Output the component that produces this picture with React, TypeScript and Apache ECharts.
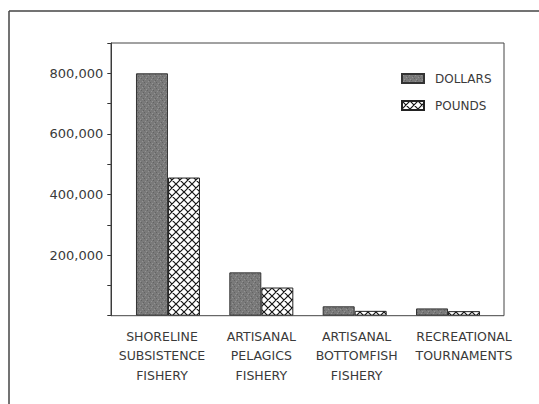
import React, { useEffect, useRef } from "react";
import * as echarts from "echarts";

const categories = [
  "SHORELINE\nSUBSISTENCE\nFISHERY",
  "ARTISANAL\nPELAGICS\nFISHERY",
  "ARTISANAL\nBOTTOMFISH\nFISHERY",
  "RECREATIONAL\nTOURNAMENTS",
];
const dollars = [800000, 143000, 31000, 24000];
const pounds = [456000, 93000, 16000, 15000];
const seriesNames = ["DOLLARS", "POUNDS"];
const yLabelValues = [200000, 400000, 600000, 800000];

const FONT = "DejaVu Sans";
const TEXT = "#3a3a3a";

function hatchTile(): string {
  const c = document.createElement("canvas");
  c.width = 8;
  c.height = 8;
  const g = c.getContext("2d")!;
  g.fillStyle = "#ffffff";
  g.fillRect(0, 0, 8, 8);
  g.strokeStyle = "#151515";
  g.lineWidth = 1.2;
  g.beginPath();
  for (const o of [-8, 0, 8]) {
    g.moveTo(o - 1, -1);
    g.lineTo(o + 9, 9);
    g.moveTo(o + 9, -1);
    g.lineTo(o - 1, 9);
  }
  g.stroke();
  return c.toDataURL();
}

function grayTile(): string {
  const c = document.createElement("canvas");
  c.width = 6;
  c.height = 6;
  const g = c.getContext("2d")!;
  g.fillStyle = "#7a7a7a";
  g.fillRect(0, 0, 6, 6);
  g.fillStyle = "#939393";
  g.fillRect(1, 1, 1, 1);
  g.fillRect(4, 3, 1, 1);
  g.fillRect(2, 5, 1, 1);
  g.fillStyle = "#636363";
  g.fillRect(3, 0, 1, 1);
  g.fillRect(0, 4, 1, 1);
  g.fillRect(5, 2, 1, 1);
  return c.toDataURL();
}

const labelRich = {
  c0: { padding: [0, 12, 0, 0] },
  c1: { padding: [0, 0, 0, 0] },
  c2: { padding: [0, 0, 0, 4] },
  c3: { padding: [0, 0, 0, 32] },
};

export default function App() {
  const ref = useRef<HTMLDivElement>(null);
  useEffect(() => {
    if (!ref.current) return;
    const chart = echarts.init(ref.current, null, { renderer: "svg" });
    const hatch = { image: hatchTile(), repeat: "repeat", imageWidth: 8, imageHeight: 8 };
    const gray = { image: grayTile(), repeat: "repeat", imageWidth: 6, imageHeight: 6 };
    const gridTop = 43;
    const gridBottomY = 315.7;
    const richStyle: Record<string, any> = {};
    Object.keys(labelRich).forEach((k) => {
      richStyle[k] = {
        ...(labelRich as any)[k],
        fontFamily: FONT,
        fontSize: 12.5,
        lineHeight: 19.5,
        color: TEXT,
      };
    });
    chart.setOption({
      animation: false,
      backgroundColor: "#ffffff",
      textStyle: { fontFamily: FONT, color: TEXT },
      grid: {
        left: 121.3,
        right: 539 - 494.7,
        top: gridTop,
        bottom: 404 - gridBottomY,
        containLabel: false,
      },
      legend: {
        orient: "vertical",
        left: 401,
        top: 71.5,
        padding: 0,
        itemWidth: 22,
        itemHeight: 9,
        itemGap: 13,
        icon: "rect",
        data: seriesNames,
        textStyle: {
          fontFamily: FONT,
          fontSize: 12,
          color: TEXT,
          lineHeight: 14,
          padding: [0, 0, 0, 6],
        },
      },
      xAxis: {
        type: "category",
        data: categories,
        axisLine: { show: false },
        axisTick: { show: false },
        axisLabel: {
          interval: 0,
          margin: 11,
          fontFamily: FONT,
          fontSize: 12.5,
          lineHeight: 19.5,
          color: TEXT,
          formatter: (v: string, i: number) =>
            v
              .split("\n")
              .map((l) => `{c${i}|${l}}`)
              .join("\n"),
          rich: richStyle,
        },
      },
      yAxis: {
        type: "value",
        min: 0,
        max: 900000,
        interval: 100000,
        offset: 10,
        splitLine: { show: false },
        axisLine: { show: true, lineStyle: { color: "#333", width: 1 } },
        axisTick: { show: true, length: 4, lineStyle: { color: "#333" } },
        axisLabel: {
          margin: 8,
          fontFamily: FONT,
          fontSize: 13,
          color: TEXT,
          formatter: (v: number) =>
            yLabelValues.includes(v) ? v.toLocaleString("en-US") : "",
        },
      },
      series: [
        {
          name: seriesNames[0],
          type: "bar",
          data: dollars,
          barWidth: 32,
          barGap: "0%",
          itemStyle: { color: gray, borderColor: "#333", borderWidth: 1 },
        },
        {
          name: seriesNames[1],
          type: "bar",
          data: pounds,
          barWidth: 32,
          barGap: "0%",
          itemStyle: { color: hatch, borderColor: "#222", borderWidth: 1 },
        },
      ],
      graphic: [
        {
          type: "rect",
          silent: true,
          z: 10,
          shape: { x: 111, y: gridTop, width: 393, height: gridBottomY - gridTop },
          style: { fill: "none", stroke: "#444", lineWidth: 1 },
        },
        {
          type: "line",
          silent: true,
          shape: { x1: 9, y1: 11, x2: 539, y2: 11 },
          style: { stroke: "#444", lineWidth: 1.5 },
        },
        {
          type: "line",
          silent: true,
          shape: { x1: 9, y1: 11, x2: 9, y2: 404 },
          style: { stroke: "#444", lineWidth: 1.5 },
        },
      ],
    });
    return () => chart.dispose();
  }, []);
  return (
    <div
      ref={ref}
      style={{ position: "fixed", left: 0, top: 0, width: 539, height: 404 }}
    />
  );
}
